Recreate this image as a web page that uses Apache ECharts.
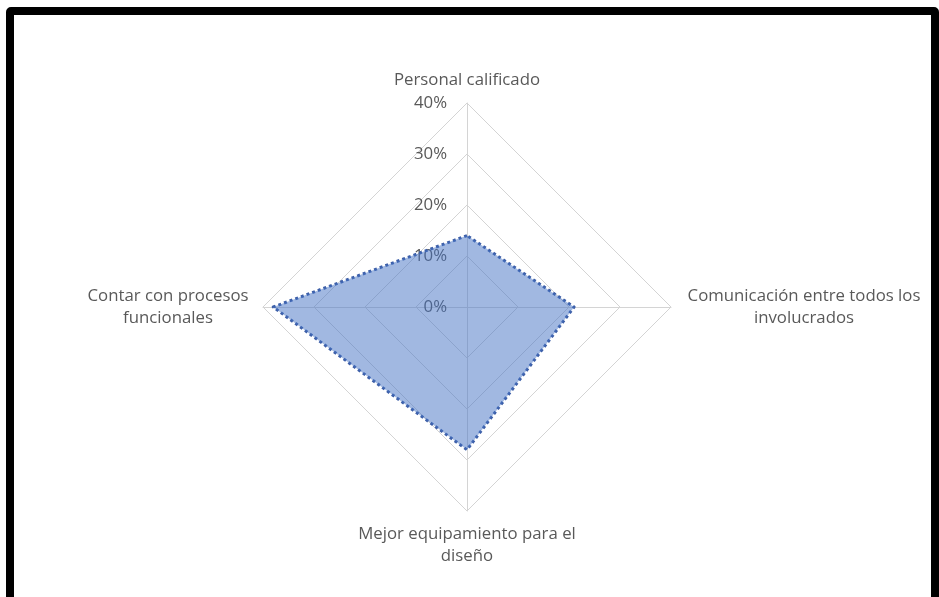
<!DOCTYPE html>
<html>
<head>
<meta charset="utf-8">
<script src="https://cdn.jsdelivr.net/npm/echarts@6/dist/echarts.min.js"></script>
<style>
  html, body { margin: 0; padding: 0; background: #fff; overflow: hidden; }
  #chart { position: absolute; left: 0; top: 0; width: 939px; height: 597px; }
  #frame { position: absolute; left: 6px; top: 7px; width: 933px; height: 598px; box-sizing: border-box;
           border: 8px solid #000; border-radius: 5px; pointer-events: none; }
</style>
</head>
<body>
<div id="chart"></div>
<div id="frame"></div>
<script>
// Order as drawn by ECharts (counter-clockwise from top), which renders the reference's clockwise layout
const categories = ["Personal calificado", "Contar con procesos funcionales", "Mejor equipamiento para el diseño", "Comunicación entre todos los involucrados"];
const displayNames = ["Personal calificado", "{l|Contar con procesos}\n{l|funcionales}", "{c|Mejor equipamiento para el}\n{c|diseño}", "{r|Comunicación entre todos los}\n{r|involucrados}"];
const values = [0.14, 0.38, 0.28, 0.21];
const axisMax = 0.4;
const tickCount = 4;

const chart = echarts.init(document.getElementById('chart'));
const textColor = '#595959';
const font = 'Open Sans, Liberation Sans, sans-serif';
const fs = 16.8;

chart.setOption({
  animation: false,
  radar: {
    center: [467, 307],
    radius: 204,
    shape: 'polygon',
    splitNumber: tickCount,
    startAngle: 90,
    indicator: categories.map((c, i) => ({
      name: displayNames[i],
      min: 0,
      max: axisMax,
      axisLabel: { show: i === 0 }
    })),
    axisName: {
      color: textColor,
      fontFamily: font,
      fontSize: fs,
      lineHeight: 22,
      rich: {
        c: { width: 240, align: 'center', color: textColor, fontFamily: font, fontSize: fs, lineHeight: 22 },
        l: { width: 166, align: 'center', color: textColor, fontFamily: font, fontSize: fs, lineHeight: 22 },
        r: { width: 242, align: 'center', color: textColor, fontFamily: font, fontSize: fs, lineHeight: 22 }
      }
    },
    nameGap: 12,
    axisLine: { show: true, lineStyle: { color: '#d4d4d4', width: 1 } },
    splitLine: { show: true, lineStyle: { color: '#d4d4d4', width: 1 } },
    splitArea: { show: false },
    axisTick: { show: false },
    axisLabel: {
      show: true,
      color: textColor,
      fontFamily: font,
      fontSize: fs,
      margin: 20,
      formatter: v => Math.round(v * 100) + '%'
    }
  },
  series: [{
    type: 'radar',
    symbol: 'none',
    data: [{
      value: values,
      lineStyle: { color: '#3d5fa8', width: 3, type: 'dotted' },
      areaStyle: { color: '#4472c4', opacity: 0.5 }
    }]
  }]
});
</script>
</body>
</html>
